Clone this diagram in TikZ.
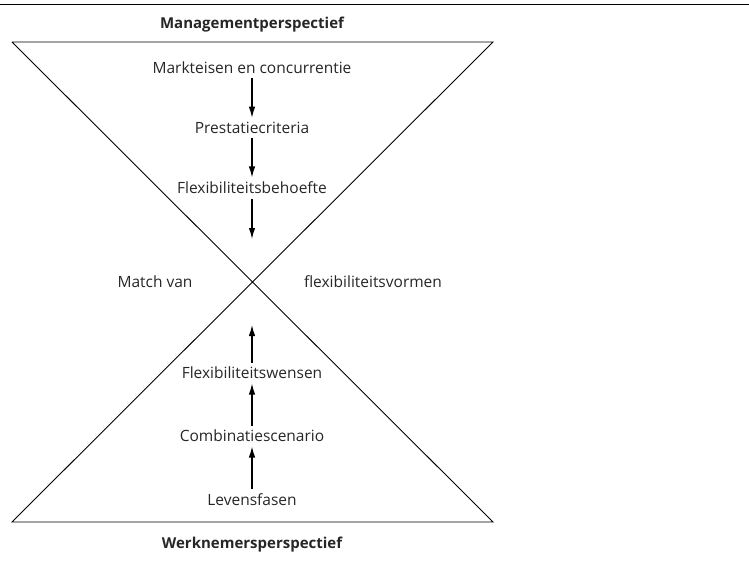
\documentclass[tikz,border=0pt]{standalone}
\usepackage{fontspec}
\setmainfont{Open Sans}
\usetikzlibrary{arrows.meta, positioning}

\begin{document}
\begin{tikzpicture}[x=1pt, y=-1pt,
  lbl/.style={font=\fontsize{15.5}{18}\selectfont, text=black!85},
  head/.style={font=\fontsize{15}{18}\selectfont\bfseries, text=black!85},
  flow/.style={-{Latex[length=11pt,width=6.5pt]}, line width=1.2pt, shorten <=1pt, shorten >=1pt}]
  \useasboundingbox (0,0) rectangle (749,567);

  % Rule at the top
  \draw[line width=1pt] (0,5) -- (749,5);

  % Hourglass
  \coordinate (tl) at (12,42);
  \coordinate (tr) at (493,42);
  \coordinate (bl) at (12,522);
  \coordinate (br) at (493,522);
  \coordinate (cross) at (252,282);
  \draw[line width=0.9pt] (tl) -- (tr) -- (bl) -- (br) -- (tl);

  % Perspectives
  \node[head] (mgmt) at (252,25) {Managementperspectief};
  \node[head] (wn) at (252,545) {Werknemersperspectief};

  % Management side, downwards
  \node[lbl] (markt) at (252,68) {Markteisen en concurrentie};
  \node[lbl] (prest) at (252,128) {Prestatiecriteria};
  \node[lbl] (behoefte) at (252,188) {Flexibiliteitsbehoefte};
  \draw[flow] (markt) -- (prest);
  \draw[flow] (prest) -- (behoefte);
  \draw[flow, shorten >=43pt] (behoefte) -- (cross);

  % Match in the middle
  \node[lbl] (match) at (155,282) {Match van};
  \node[lbl] (vormen) at (373,282) {flexibiliteitsvormen};

  % Employee side, upwards
  \node[lbl] (leven) at (252,500) {Levensfasen};
  \node[lbl] (scenario) at (252,436) {Combinatiescenario};
  \node[lbl] (wensen) at (252,373) {Flexibiliteitswensen};
  \draw[flow] (leven) -- (scenario);
  \draw[flow] (scenario) -- (wensen);
  \draw[flow, shorten >=43pt] (wensen) -- (cross);
\end{tikzpicture}
\end{document}
